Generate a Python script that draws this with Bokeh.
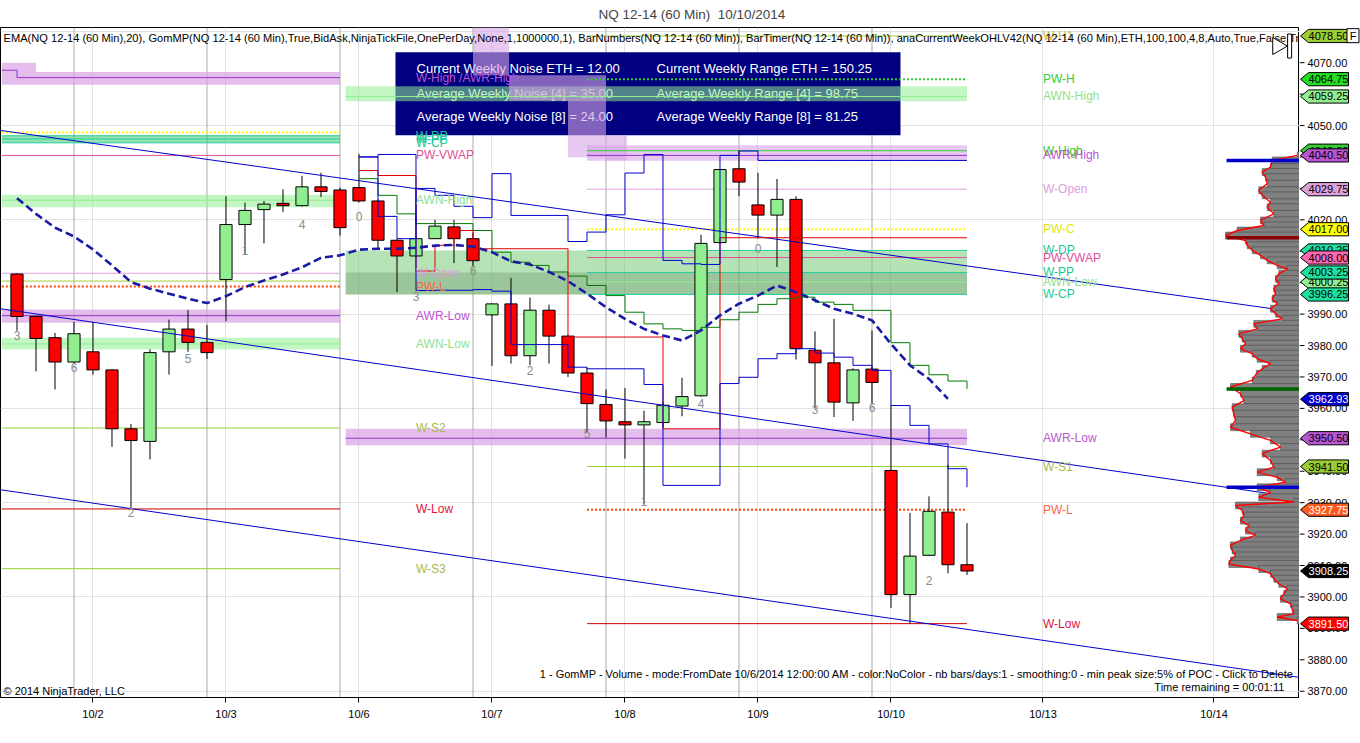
import numpy as np
from bokeh.plotting import figure
from bokeh.layouts import row
from bokeh.models import (ColumnDataSource, Range1d, FixedTicker, Span)
from bokeh.core.properties import value
from bokeh.embed import file_html
from bokeh.resources import INLINE

FONT = "Liberation Sans"

# ---------------- data ----------------
bar_open = [4002.75, 3989.25, 3982.5, 3974.75, 3978.0, 3972.25, 3953.5, 3949.5, 3978.0, 3985.25,
            3981.0, 4001.0, 4018.5, 4023.25, 4025.25, 4024.5, 4030.5, 4029.5, 4030.25, 4026.0,
            4013.5, 4008.5, 4014.0, 4017.75, 4014.0, 3989.75, 3993.25, 3976.75, 3991.25, 3983.0,
            3971.25, 3961.25, 3955.75, 3954.75, 3955.5, 3960.75, 3964.0, 4012.75, 4036.25, 4024.75,
            4021.5, 4026.5, 3978.5, 3974.5, 3961.75, 3972.5, 3940.25, 3900.75, 3913.25, 3927.0, 3910.25]
bar_high = [4003.0, 3989.5, 3984.0, 3987.5, 3987.5, 3972.5, 3955.0, 3978.75, 3988.25, 3991.25,
            3986.5, 4027.5, 4025.5, 4026.0, 4029.75, 4034.0, 4035.0, 4030.25, 4041.0, 4026.5,
            4014.0, 4014.5, 4020.0, 4020.0, 4016.0, 3993.5, 4001.5, 3995.25, 3993.0, 3983.5,
            3973.0, 3966.0, 3966.5, 3959.25, 3962.0, 3969.75, 4015.25, 4036.0, 4042.0, 4035.0,
            4033.0, 4027.5, 3984.5, 3988.5, 3972.75, 3984.75, 3961.0, 3926.75, 3932.0, 3942.0, 3923.5]
bar_low = [3984.75, 3971.75, 3966.0, 3974.5, 3970.75, 3947.75, 3928.0, 3943.75, 3970.75, 3978.0,
           3975.75, 3987.75, 4009.0, 4012.5, 4022.5, 4024.25, 4027.25, 4015.0, 4025.5, 4010.75,
           3997.0, 4008.0, 4014.0, 4006.25, 4005.25, 3973.5, 3974.25, 3973.75, 3974.25, 3970.0,
           3952.5, 3950.75, 3944.0, 3929.5, 3954.0, 3957.5, 3963.75, 4012.5, 4027.5, 4014.0,
           4005.0, 3975.5, 3960.0, 3957.25, 3956.0, 3961.5, 3896.5, 3891.5, 3913.0, 3907.5, 3907.0]
bar_close = [3989.25, 3982.25, 3974.75, 3983.75, 3972.25, 3953.5, 3949.75, 3977.75, 3985.25, 3981.0,
             3977.75, 4018.5, 4023.0, 4025.0, 4024.5, 4030.5, 4029.0, 4017.5, 4026.0, 4013.5,
             4008.5, 4014.0, 4018.0, 4014.0, 4007.0, 3993.25, 3976.75, 3991.25, 3983.0, 3971.25,
             3961.5, 3956.0, 3954.75, 3955.75, 3961.0, 3963.75, 4012.5, 4036.0, 4032.0, 4021.5,
             4026.5, 3979.0, 3974.5, 3962.0, 3972.25, 3968.25, 3900.75, 3913.0, 3927.25, 3910.25, 3908.25]

ema20 = [4026.9, 4021.9, 4017.5, 4014.7, 4010.6, 4005.5, 4000.2, 3998.1, 3996.5, 3994.9,
         3993.5, 3995.7, 3998.6, 4000.7, 4002.6, 4004.9, 4007.9, 4008.7, 4010.5, 4010.8,
         4010.8, 4011.1, 4011.8, 4012.0, 4011.5, 4009.7, 4006.8, 4005.8, 4003.4, 4000.5,
         3996.5, 3992.2, 3988.5, 3985.3, 3983.2, 3981.6, 3984.8, 3989.6, 3993.3, 3995.9,
         3999.1, 3997.0, 3994.4, 3991.7, 3990.1, 3988.0, 3980.5, 3973.7, 3969.4, 3963.0]

step_first_bar = 18
noise_blue_a = [4040.0, 4040.8, 4040.8, 3997.5, 3997.6, 3997.6, 3997.8, 3997.3, 3980.3, 3980.3,
                3980.3, 3973.1, 3972.6, 3972.6, 3972.6, 3967.6, 3935.5, 3935.5, 3935.5, 3967.9,
                3969.9, 3975.8, 3977.4, 3979.0, 3977.6, 3976.3, 3973.7, 3972.1, 3960.9, 3954.6,
                3948.7, 3940.8, 3934.9]
noise_blue_b = [4040.0, 4021.1, 4014.0, 4030.0, 4027.8, 4024.3, 4020.7, 4034.7, 4021.4, 4021.4,
                4021.4, 4013.1, 4016.1, 4021.6, 4034.9, 4040.8, 4007.1, 4006.0, 4005.8, 4040.5,
                4041.9, 4038.9, 4038.9, 4038.9, 4038.9, 4038.9, 4038.9, 4038.9, 4038.9, 4038.9,
                4038.9, 4038.9, 4038.9]
noise_red = [4035.7, 4034.1, 4034.1, 4003.7, 4011.9, 4016.6, 4010.8, 4010.8, 4010.8, 4010.8,
             4010.8, 3982.7, 3982.7, 3982.7, 3982.7, 3982.7, 3953.5, 3953.5, 3953.5, 4014.3,
             4014.3, 4014.3, 4014.3, 4014.3, 4014.3, 4014.3, 4014.3, 4014.3, 4014.3, 4014.3,
             4014.3, 4014.3, 4014.3]
noise_green = [4033.1, 4027.8, 4021.9, 4018.8, 4018.8, 4018.8, 4016.6, 4009.7, 4006.5, 4005.5,
               4003.4, 4002.1, 3999.1, 3995.9, 3990.6, 3986.9, 3985.3, 3984.8, 3985.8, 3988.2,
               3990.6, 3993.1, 3994.9, 3995.4, 3993.8, 3993.1, 3991.2, 3991.2, 3980.9, 3973.7,
               3970.7, 3968.7, 3966.2]

date_tick_bars = [4, 11, 18, 25, 32, 39, 46, 54, 63]
date_tick_labels = ["10/2", "10/3", "10/6", "10/7", "10/8", "10/9", "10/10", "10/13", "10/14"]
session_bars = [3, 10, 17, 24, 31, 38, 45]
price_ticks = [3870, 3880, 3890, 3900, 3910, 3920, 3930, 3940, 3950, 3960, 3970, 3980, 3990,
               4000, 4010, 4020, 4030, 4040, 4050, 4060, 4070]
price_tick_labels = ["3870.00", "3880.00", "3890.00", "3900.00", "3910.00", "3920.00", "3930.00",
                     "3940.00", "3950.00", "3960.00", "3970.00", "3980.00", "3990.00", "4000.00",
                     "4010.00", "4020.00", "4030.00", "4040.00", "4050.00", "4060.00", "4070.00"]
grid_prices = [3870, 3900, 3930, 3960, 3990, 4020, 4050, 4080]

barnum_bars = [0, 3, 6, 9, 12, 15, 18, 21, 24, 27, 30, 33, 36, 39, 42, 45, 48]
barnum_text = ["3", "6", "2", "5", "1", "4", "0", "3", "6", "2", "5", "1", "4", "0", "3", "6", "2"]
barnum_price = [3983.25, 3973.0, 3927.0, 3975.75, 4010.25, 4018.5, 4021.0, 3995.5, 4004.0, 3972.0,
                3952.0, 3930.5, 3961.5, 4011.0, 3959.75, 3960.25, 3905.25]

channel_bars = [-0.87, 67.5]
channel_upper = [4048.45, 3990.5]
channel_mid = [3991.7, 3931.5]
channel_low = [3934.1, 3874.4]

profile_price = [4040.5, 4038.9, 4036.8, 4035.2, 4033.6, 4031.5, 4029.4, 4027.8, 4025.6, 4024.0,
                 4021.9, 4019.8, 4018.2, 4016.6, 4015.0, 4013.4, 4011.9, 4010.3, 4008.7, 4007.1,
                 4005.5, 4004.4, 4002.8, 4001.2, 3999.7, 3998.1, 3996.5, 3994.9, 3993.3, 3991.7,
                 3990.1, 3988.5, 3986.9, 3985.3, 3983.7, 3982.2, 3980.6, 3979.0, 3977.4, 3975.8,
                 3974.2, 3972.6, 3971.0, 3968.9, 3966.8, 3964.7, 3962.5, 3960.4, 3958.3, 3956.2,
                 3954.0, 3951.9, 3949.8, 3947.7, 3945.6, 3943.4, 3941.3, 3939.7, 3938.1, 3936.5,
                 3934.9, 3933.3, 3931.7, 3930.2, 3929.1, 3927.5, 3925.9, 3924.3, 3922.7, 3921.1,
                 3919.6, 3918.0, 3916.4, 3914.8, 3913.2, 3911.6, 3910.5, 3908.9, 3907.4, 3905.8,
                 3904.2, 3902.6, 3901.0, 3899.4, 3897.8, 3896.2, 3894.6, 3893.6, 3892.5]
profile_volume = [2.3, 27.3, 29, 37.3, 34, 32.3, 40.7, 37.3, 29, 32.3,
                  25.7, 39, 35.7, 62.3, 74, 54, 52.3, 47.3, 39, 32.3,
                  22.3, 12.3, 20.7, 24, 20.7, 25.7, 24, 27.3, 22.3, 29,
                  24, 17.3, 45.7, 42.3, 60.7, 57.3, 54, 59, 47.3, 42.3,
                  29, 37.3, 43.2, 47.3, 69, 59, 55.7, 67.3, 65.7, 64,
                  69, 49, 29, 19, 37.3, 29, 25.7, 42.3, 22.3, 14,
                  42.3, 29, 40.7, 5.7, 64, 57.3, 55.7, 59, 50.7, 54,
                  44, 59, 69, 67.3, 64, 69, 70.7, 40.7, 29, 25.7,
                  20.7, 12.3, 15.7, 19, 9, 7.3, 5.7, 22.3, 2.3]

prev_level_name = ["W-High /AWR-High", "PW-C", "W-DP", "W-PP", "W-CP", "PW-VWAP", "AWN-High",
                   "W-Open", "W-S1", "PW-L", "AWR-Low", "AWN-Low", "W-S2", "W-Low", "W-S3"]
prev_level_price = [4065.25, 4047.75, 4046.75, 4045.75, 4044.5, 4040.5, 4026.25,
                    4003.0, 4000.5, 3998.75, 3989.5, 3980.5, 3953.75, 3928.0, 3909.0]
prev_label_shown = [True, False, True, True, True, True, True,
                    True, False, True, True, True, True, True, True]
prev_whigh_first = 4067.6      # W-High before the first bar of the previous week's chart

cur_level_name = ["W-H1", "PW-H", "AWN-High", "W-High", "AWR-High", "W-Open", "PW-C", "W-DP",
                  "PW-VWAP", "W-PP", "AWN-Low", "W-CP", "AWR-Low", "W-S1", "PW-L", "W-Low"]
cur_level_price = [4078.5, 4064.75, 4059.25, 4042.0, 4040.5, 4029.75, 4017.0, 4010.25,
                   4008.0, 4003.25, 4000.25, 3996.25, 3950.5, 3941.5, 3927.75, 3891.5]
cur_level_from_monday = [False, False, True, False, False, False, False, False,
                         False, False, False, False, True, False, False, False]

# current-week AWR-High zone as it moved during the week (bar from, bar to, low, high)
awrh_from = [24.0, 25.9, 29.0, 31.0, 30.0]
awrh_to = [25.9, 29.0, 31.0, 32.1, 50.0]
awrh_low = [4066.0, 4058.0, 4039.9, 4038.9, 4038.8]
awrh_high = [4082.0, 4066.0, 4066.0, 4046.9, 4043.7]

marker_price = [4078.50, 4064.75, 4059.25, 4042.00, 4040.50, 4029.75, 4017.00, 4010.25, 4008.00,
                4000.25, 4003.25, 3996.25, 3962.93, 3950.50, 3941.50, 3927.75, 3908.25, 3891.50]
marker_text = ["4078.50", "4064.75", "4059.25", "4042.00", "4040.50", "4029.75", "4017.00", "4010.25",
               "4008.00", "4000.25", "4003.25", "3996.25", "3962.93", "3950.50", "3941.50", "3927.75",
               "3908.25", "3891.50"]

info_rows_left = ["Current Weekly Noise ETH = 12.00", "Average Weekly Noise [4] = 35.00",
                  "Average Weekly Noise [8] = 24.00"]
info_rows_right = ["Current Weekly Range ETH = 150.25", "Average Weekly Range [4] = 98.75",
                   "Average Weekly Range [8] = 81.25"]

# ---------------- styles ----------------
marker_fill = ["#9ACD32", "#22DD22", "#90EE90", "#32CD32", "#BA55D3", "#DDA0DD", "#FFFF00", "#1EE0A0",
               "#FF69B4", "#90EE90", "#1EE0A0", "#1EE0A0", "#0000CD", "#BA55D3", "#9ACD32", "#FF5A1E",
               "#000000", "#FF0000"]
marker_tc = ["black", "black", "black", "black", "black", "black", "black", "black",
             "black", "black", "black", "black", "white", "black", "black", "white", "white", "white"]

LVL = {
    "W-H1": ("#9ACD32", None, 1, "#BDBD40"),
    "PW-H": ("#32CD32", "2 2", 2, "#32CD32"),
    "AWN-High": ("#90EE90", None, 1, "#90E090"),
    "W-High": ("#32CD32", None, 1, "#32CD32"),
    "AWR-High": ("#9932CC", None, 1, "#BA55D3"),
    "W-High /AWR-High": ("#9932CC", None, 1, "#BA55D3"),
    "W-Open": ("#DDA0DD", None, 1, "#DDA0DD"),
    "PW-C": ("#FFFF00", "2 2", 2, "#E6E600"),
    "W-DP": ("#20D0A0", None, 1, "#20C896"),
    "W-PP": ("#20D0A0", None, 1, "#20C896"),
    "W-CP": ("#20D0A0", None, 1, "#20C896"),
    "PW-VWAP": ("#E0509A", None, 1, "#E0509A"),
    "AWN-Low": ("#90EE90", None, 1, "#90E090"),
    "AWR-Low": ("#9932CC", None, 1, "#BA55D3"),
    "W-S1": ("#9ACD32", None, 1, "#A9B94A"),
    "W-S2": ("#9ACD32", None, 1, "#A9B94A"),
    "W-S3": ("#9ACD32", None, 1, "#A9B94A"),
    "PW-L": ("#FF4500", "2 2", 2, "#FF6347"),
    "W-Low": ("#D00000", None, 1, "#DC143C"),
}

PREV = (-0.8, 17.0)
CUR = (17.3, 50.0)
CUR_LATE = (30.0, 50.0)
PREV_LABEL_X = 21.0
CUR_LABEL_X = 54.0

PURPLE, LGREEN = "#D7A3E6", "#90EE90"

# ---------------- layout ----------------
WM, WS, H = 1299, 61, 740
MT, MB = 27, 43
X0, X1 = -0.868, 67.5
Y0, Y1 = 3868.0, 4081.2
yr = Range1d(Y0, Y1)

p = figure(width=WM, height=H, x_range=Range1d(X0, X1), y_range=yr,
           output_backend="svg", toolbar_location=None, y_axis_location=None,
           min_border_left=0, min_border_right=0, min_border_top=MT, min_border_bottom=MB,
           background_fill_color="white", border_fill_color="white")
p.title.text = "NQ 12-14 (60 Min)\u00a0 10/10/2014"
p.title.align = "left"
p.title.offset = 598
p.title.standoff = 9
p.title.text_font = FONT
p.title.text_font_size = "13.5px"
p.title.text_font_style = "normal"
p.title.vertical_align = "middle"
p.outline_line_color = "black"
p.outline_line_width = 1

p.xaxis.ticker = FixedTicker(ticks=date_tick_bars)
p.xaxis.major_label_overrides = {b: t for b, t in zip(date_tick_bars, date_tick_labels)}
ax = p.xaxis[0]
ax.minor_tick_line_color = None
ax.major_tick_in = 0
ax.major_tick_out = 5
ax.major_label_text_font = FONT
ax.major_label_text_font_size = "11px"
ax.major_label_text_color = "black"
ax.axis_line_color = "black"
ax.major_tick_line_color = "black"
ax.major_label_standoff = 5

p.xgrid.ticker = FixedTicker(ticks=date_tick_bars)
p.ygrid.ticker = FixedTicker(ticks=grid_prices)
p.xgrid.grid_line_color = "#E2E2E2"
p.ygrid.grid_line_color = "#E2E2E2"
for b in session_bars:
    p.add_layout(Span(location=b, dimension="height", line_color="#ABABAB", line_width=1, level="underlay"))

# ---------------- info box ----------------
p.quad(left=19.92, right=46.5, bottom=4046.9, top=4073.3, fill_color="#000080", line_color=None)
p.text(x=[21.03] * 3, y=[4068.2, 4060.2, 4052.9], text=info_rows_left, text_color="white",
       text_font=value(FONT), text_font_size="13px", text_baseline="middle", text_align="left")
p.text(x=[33.66] * 3, y=[4068.2, 4060.2, 4052.9], text=info_rows_right, text_color="white",
       text_font=value(FONT), text_font_size="13px", text_baseline="middle", text_align="left")

# ---------------- bands ----------------
band_l = [PREV[0], 1.0, PREV[0], PREV[0], PREV[0], PREV[0],
          CUR[0], CUR[0], CUR[0], CUR[0]]
band_r = [1.0, PREV[1], PREV[1], PREV[1], PREV[1], PREV[1],
          CUR[1], CUR[1], CUR[1], CUR[1]]
band_b = [4063.0, 4063.0, 4044.5, 4024.0, 3987.25, 3978.75,
          4057.75, 3996.25, 3996.25, 3948.25]
band_t = [4070.0, 4067.0, 4046.75, 4028.0, 3991.5, 3982.5,
          4062.5, 4010.25, 4003.25, 3953.5]
band_c = [PURPLE, PURPLE, "#3CCB6E", LGREEN, PURPLE, LGREEN,
          LGREEN, "#6CC86C", "#5A7A5A", PURPLE]
band_a = [0.7, 0.7, 0.55, 0.55, 0.7, 0.55, 0.55, 0.5, 0.28, 0.7]
p.quad(left=band_l, right=band_r, bottom=band_b, top=band_t, fill_color=band_c,
       fill_alpha=band_a, line_color=None)
p.quad(left=awrh_from, right=awrh_to, bottom=awrh_low, top=awrh_high, fill_color=PURPLE,
       fill_alpha=0.6, line_color=None)

# ---------------- level lines ----------------
def level_line(x0, x1, price, name):
    col, dash, lw, _ = LVL[name]
    p.line([x0, x1], [price, price], line_color=col, line_width=lw,
           line_dash=dash if dash else "solid")

for name, price in zip(prev_level_name, prev_level_price):
    if name == "W-High /AWR-High":
        p.step([PREV[0], 0.0, PREV[1]], [prev_whigh_first, price, price], mode="after",
               line_color=LVL[name][0], line_width=1)
    else:
        level_line(PREV[0], PREV[1], price, name)
for name, price, mon in zip(cur_level_name, cur_level_price, cur_level_from_monday):
    x0 = CUR[0] if mon else CUR_LATE[0]
    level_line(x0, CUR_LATE[1], price, name)

# ---------------- candles ----------------
cidx = list(range(len(bar_open)))
ctop = [max(o, c) for o, c in zip(bar_open, bar_close)]
cbot = [min(o, c) for o, c in zip(bar_open, bar_close)]
ccol = ["#90EE90" if c > o else "#FF0000" for o, c in zip(bar_open, bar_close)]
csrc = ColumnDataSource(dict(x=cidx, h=bar_high, l=bar_low, top=ctop, bot=cbot, col=ccol))
p.segment(x0="x", y0="h", x1="x", y1="l", line_color="black", line_width=1, source=csrc)
p.vbar(x="x", width=0.64, top="top", bottom="bot", fill_color="col", line_color="black",
       line_width=1, source=csrc)

# ---------------- channel lines ----------------
for ch in (channel_upper, channel_mid, channel_low):
    p.line(channel_bars, ch, line_color="#0000CD", line_width=1)

# ---------------- volume profile ----------------
PROFILE_SCALE = 1.0 / 19.0
prof_left = [X1 - v * PROFILE_SCALE for v in profile_volume]
p.hbar(y=profile_price, left=prof_left, right=X1, height=2.2, fill_color="#808080",
       line_color="#404040", line_width=0.5)
p.line(prof_left, profile_price, line_color="#FF0000", line_width=1.4)

# ---------------- noise step lines ----------------
sx = list(range(step_first_bar, step_first_bar + len(noise_blue_a)))
p.step(sx, noise_green, mode="after", line_color="#007A00", line_width=1)
p.step(sx, noise_red, mode="after", line_color="#E00000", line_width=1)
p.step(sx, noise_blue_a, mode="after", line_color="#0000CD", line_width=1)
p.step(sx, noise_blue_b, mode="after", line_color="#0000CD", line_width=1)
PROF_MARK_X = 63.66
p.segment(x0=[PROF_MARK_X] * 4, x1=[X1] * 4,
          y0=[noise_blue_b[-1], noise_red[-1], noise_green[-1], noise_blue_a[-1]],
          y1=[noise_blue_b[-1], noise_red[-1], noise_green[-1], noise_blue_a[-1]],
          line_color=["#0000CD", "#8B0000", "#006400", "#0000CD"], line_width=3.5)

# ---------------- EMA ----------------
p.line(list(range(len(ema20))), ema20, line_color="#1A1AA6", line_width=2.6, line_dash="8 4")

# ---------------- bar numbers ----------------
p.text(x=barnum_bars, y=barnum_price, text=barnum_text, text_color="#8C8C8C",
       text_font=value(FONT), text_font_size="12px", text_align="center", text_baseline="middle")

# ---------------- level labels ----------------
for name, price, shown in zip(prev_level_name, prev_level_price, prev_label_shown):
    if shown:
        p.text(x=[PREV_LABEL_X], y=[price], text=[name], text_color=LVL[name][3],
               text_font=value(FONT), text_font_size="12px", text_baseline="middle", text_align="left")
for name, price in zip(cur_level_name, cur_level_price):
    p.text(x=[CUR_LABEL_X], y=[price], text=[name], text_color=LVL[name][3],
           text_font=value(FONT), text_font_size="12px", text_baseline="middle", text_align="left")

# ---------------- texts in plot ----------------
indicator_text = ("EMA(NQ 12-14 (60 Min),20), GomMP(NQ 12-14 (60 Min),True,BidAsk,NinjaTickFile,"
                  "OnePerDay,None,1,1000000,1), BarNumbers(NQ 12-14 (60 Min)), BarTimer(NQ 12-14 (60 Min)), "
                  "anaCurrentWeekOHLV42(NQ 12-14 (60 Min),ETH,100,100,4,8,Auto,True,False,Tr")
p.text(x=[-0.71], y=[4077.7], text=[indicator_text], text_color="black", text_font=value(FONT),
       text_font_size="11.1px", text_baseline="middle", text_align="left")
p.text(x=[67.19], y=[3875.6], text=["1 - GomMP - Volume - mode:FromDate 10/6/2014 12:00:00 AM - "
                                    "color:NoColor - nb bars/days:1 - smoothing:0 - min peak size:5% of POC - Click to Delete"],
       text_color="black", text_font=value(FONT), text_font_size="11px", text_baseline="middle",
       text_align="right")
p.text(x=[66.7], y=[3871.5], text=["Time remaining = 00:01:11"], text_color="black",
       text_font=value(FONT), text_font_size="11px", text_baseline="middle", text_align="right")
p.text(x=[-0.71], y=[3870.2], text=["\u00a9 2014 NinjaTrader, LLC"], text_color="black",
       text_font=value(FONT), text_font_size="11px", text_baseline="middle", text_align="left")

# scroll-to-end button
p.scatter(x=[66.35], y=[4075.3], marker="triangle", size=17, angle=-np.pi / 2,
          fill_color="white", line_color="black", line_width=1)
p.rect(x=[66.98], y=[4075.3], width=4, height=24, width_units="screen", height_units="screen",
       fill_color="white", line_color="black", line_width=1)

# ---------------- price scale panel (right) ----------------
s = figure(width=WS, height=H, x_range=Range1d(0, WS), y_range=yr,
           output_backend="svg", toolbar_location=None, x_axis_location=None, y_axis_location=None,
           min_border_left=0, min_border_right=0, min_border_top=MT, min_border_bottom=MB,
           background_fill_color="white", border_fill_color="white")
s.outline_line_color = None
s.grid.visible = False
TICK_LEN, LABEL_X = 5, 8
s.segment(x0=[0] * len(price_ticks), x1=[TICK_LEN] * len(price_ticks), y0=price_ticks, y1=price_ticks,
          line_color="black", line_width=1)
s.text(x=[LABEL_X] * len(price_ticks), y=price_ticks, text=price_tick_labels, text_color="black",
       text_font=value(FONT), text_font_size="11px", text_baseline="middle", text_align="left")

MK_TIP, MK_SHOULDER, MK_END, MK_HALF_PX = 1, 9, 49, 6.6
hh = MK_HALF_PX * (Y1 - Y0) / (H - MT - MB)
for pr, txt, fc, tc in zip(marker_price, marker_text, marker_fill, marker_tc):
    s.patch(x=[MK_TIP, MK_SHOULDER, MK_END, MK_END, MK_SHOULDER],
            y=[pr, pr + hh, pr + hh, pr - hh, pr - hh],
            fill_color=fc, line_color="black", line_width=1)
    s.text(x=[(MK_SHOULDER + MK_END) / 2], y=[pr], text=[txt], text_color=tc,
           text_font=value(FONT), text_font_size="11px", text_baseline="middle", text_align="center")

# "F" button
s.rect(x=[53.5], y=[4078.6], width=12, height=14, width_units="screen", height_units="screen",
       fill_color="white", line_color="black", line_width=1)
s.text(x=[53.5], y=[4078.6], text=["F"], text_color="black", text_font=value(FONT),
       text_font_size="11px", text_baseline="middle", text_align="center")

layout = row(p, s, spacing=0)
open("out.html", "w").write(file_html(layout, INLINE))
